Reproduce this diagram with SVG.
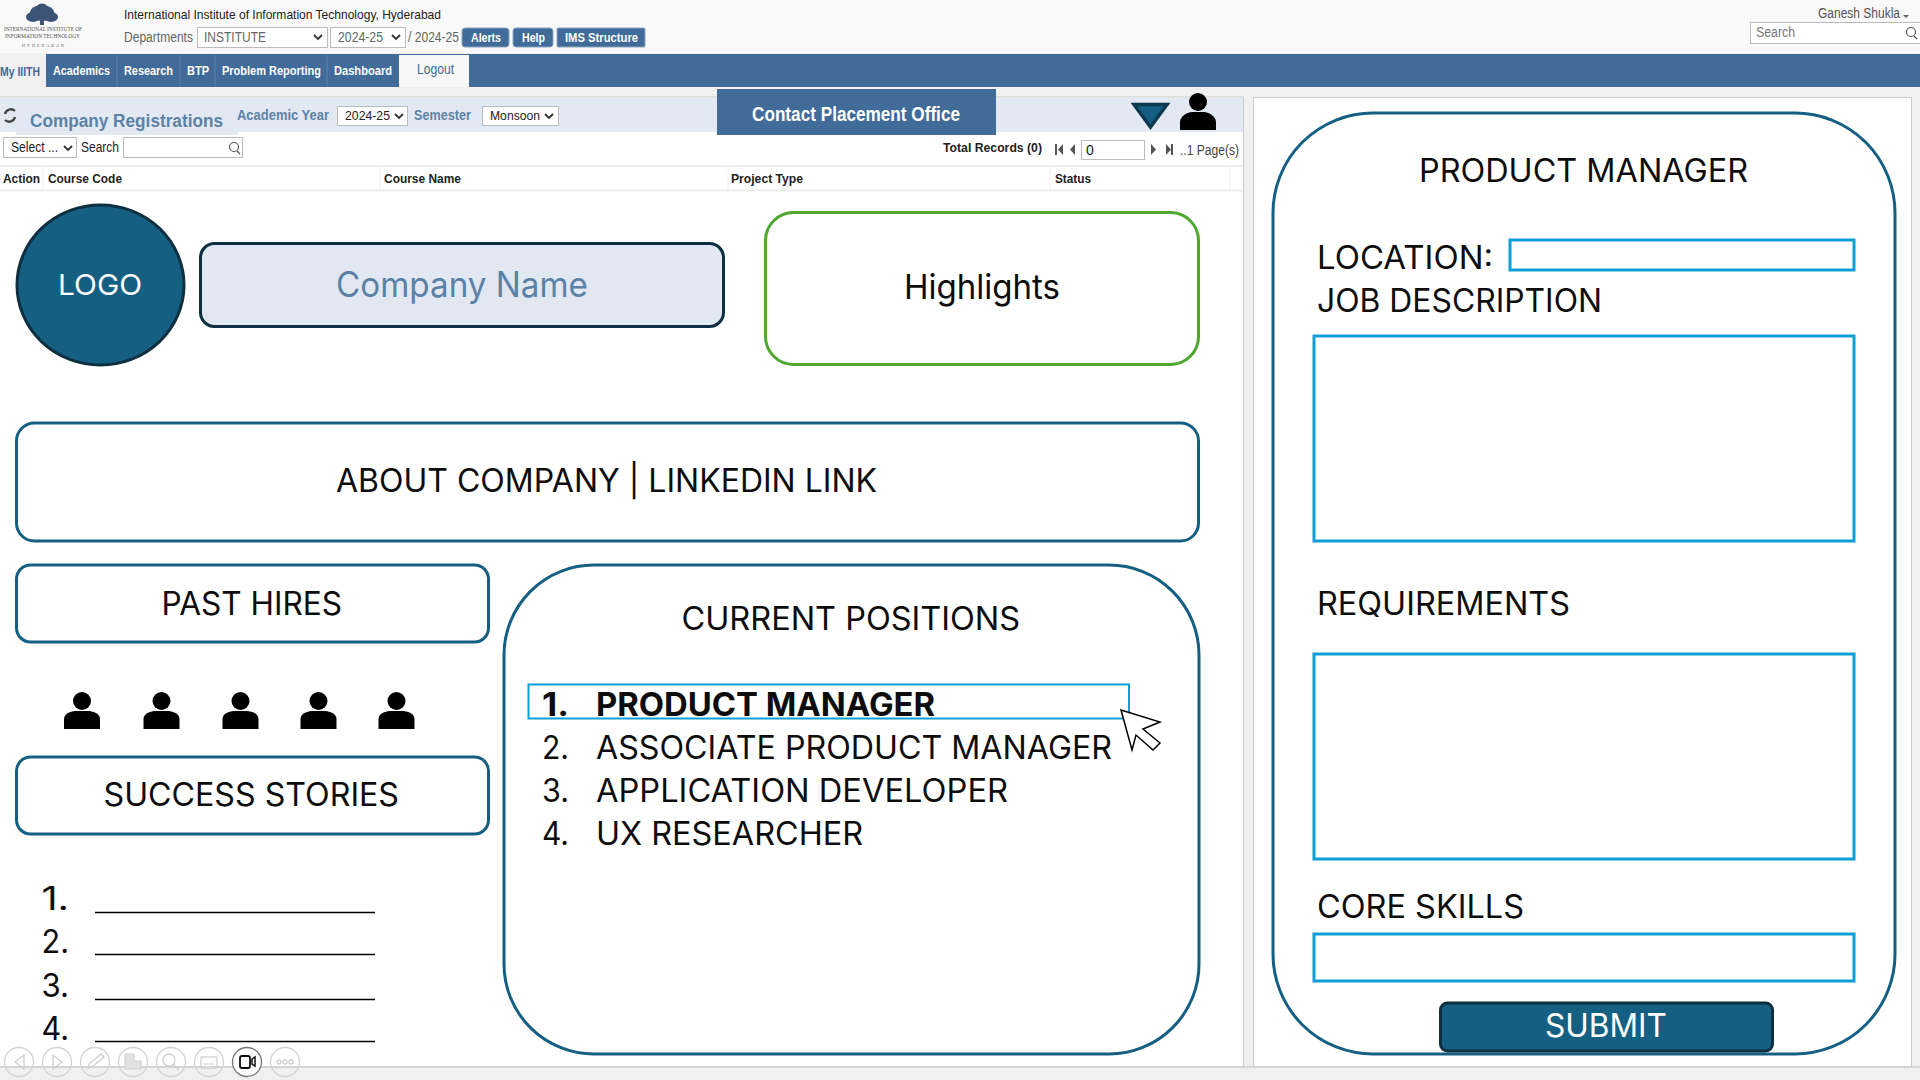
<svg xmlns="http://www.w3.org/2000/svg" width="1920" height="1080" viewBox="0 0 1920 1080">
<defs>
<style>
text{font-family:"Liberation Sans",Arial,sans-serif;font-size:13px;fill:#222}
.b{font-weight:bold}
.nav{font-weight:bold;fill:#fff;font-size:13px}
.lbl{fill:#3f6a97;font-weight:bold;font-size:14px}
.sel{fill:#fff;stroke:#bbb;stroke-width:1}
.chev{fill:none;stroke:#333;stroke-width:1.8}
.m{font-family:"Inter","Noto Sans",sans-serif;font-size:32px;fill:#0d0d0d}
.card{fill:#fff;stroke:#156082;stroke-width:3}
.field{fill:#fff;stroke:#0f9ed5;stroke-width:3}
.tool{fill:none;stroke:#d4d4d4;stroke-width:1.3}
.ico{fill:none;stroke:#cfcfcf;stroke-width:1.3}
.btn{fill:#416c9a;stroke:#8aa5c2;stroke-width:1}
.rule{stroke:#000;stroke-width:1.6}
</style>
<g id="person"><circle cx="0" cy="9" r="9" fill="#000"/><path d="M-18 37V27C-18 21-10 19-6 19H6C10 19 18 21 18 27V37Z" fill="#000"/></g>
</defs>
<rect width="1920" height="1080" fill="#f0f0f0"/>
<g id="header">
<rect width="1920" height="53" fill="#f9f9f9"/>
<g id="iiit-logo">
<ellipse cx="42" cy="13" rx="12" ry="8" fill="#3c5576"/><ellipse cx="33" cy="17" rx="7" ry="5" fill="#3c5576"/><ellipse cx="51" cy="17" rx="7" ry="5" fill="#3c5576"/><ellipse cx="42" cy="7" rx="5" ry="3.500" fill="#3c5576"/><rect x="40" y="18" width="4" height="7" fill="#3c5576"/>
<text x="4" y="31" style="font-family:'Liberation Serif',serif;font-size:5.400px;fill:#555" textLength="78" lengthAdjust="spacingAndGlyphs">INTERNATIONAL INSTITUTE OF</text>
<text x="5" y="38" style="font-family:'Liberation Serif',serif;font-size:5.400px;fill:#555" textLength="75" lengthAdjust="spacingAndGlyphs">INFORMATION TECHNOLOGY</text>
<text x="22" y="47" style="font-family:'Liberation Serif',serif;font-size:4px;fill:#555" textLength="42" lengthAdjust="spacing">HYDERABAD</text>
</g>
<text x="124" y="19" textLength="317" lengthAdjust="spacingAndGlyphs">International Institute of Information Technology, Hyderabad</text>
<text x="124" y="42" style="font-size:14px;fill:#666" textLength="69" lengthAdjust="spacingAndGlyphs">Departments</text>
<rect class="sel" x="197.500" y="27.500" width="130" height="20"/><text x="204" y="42" style="font-size:14px;fill:#666" textLength="62" lengthAdjust="spacingAndGlyphs">INSTITUTE</text><path class="chev" d="M314 35l4 4 4-4"/>
<rect class="sel" x="330.500" y="27.500" width="75" height="20"/><text x="338" y="42" style="font-size:14px;fill:#666" textLength="45" lengthAdjust="spacingAndGlyphs">2024-25</text><path class="chev" d="M392 35l4 4 4-4"/>
<text x="408" y="42" style="font-size:14px;fill:#666" textLength="51" lengthAdjust="spacingAndGlyphs">/ 2024-25</text>
<rect class="btn" x="462" y="28" width="47" height="19" rx="3"/><text x="471" y="42" class="nav" textLength="30" lengthAdjust="spacingAndGlyphs">Alerts</text>
<rect class="btn" x="513" y="28" width="40" height="19" rx="3"/><text x="522" y="42" class="nav" textLength="23" lengthAdjust="spacingAndGlyphs">Help</text>
<rect class="btn" x="557" y="28" width="88" height="19" rx="1"/><text x="565" y="42" class="nav" textLength="73" lengthAdjust="spacingAndGlyphs">IMS Structure</text>
<text x="1818" y="18" style="font-size:14px;fill:#555" textLength="82" lengthAdjust="spacingAndGlyphs">Ganesh Shukla</text><path d="M1903 15h6l-3 3z" fill="#666"/>
<rect class="sel" x="1750.500" y="22.500" width="175" height="21"/><text x="1756" y="37" style="font-size:14px;fill:#777" textLength="39" lengthAdjust="spacingAndGlyphs">Search</text>
<circle cx="1911" cy="32" r="4.500" fill="none" stroke="#555" stroke-width="1.200"/><path d="M1914 36l3 3" stroke="#555" stroke-width="1.200"/>
</g>
<g id="navbar">
<rect y="54" width="1920" height="33" fill="#416c9a"/>
<rect y="54" width="46" height="33" fill="#f0f0f0"/>
<rect x="399" y="55" width="70" height="32" fill="#f7f7f7"/>
<path d="M117 55V87M180 55V87M215 55V87M327 55V87" stroke="#5b82aa"/>
<text x="0" y="76" class="b" style="font-size:13px;fill:#3f6a97" textLength="40" lengthAdjust="spacingAndGlyphs">My IIITH</text>
<text x="53" y="75" class="nav" textLength="57" lengthAdjust="spacingAndGlyphs">Academics</text>
<text x="124" y="75" class="nav" textLength="49" lengthAdjust="spacingAndGlyphs">Research</text>
<text x="187" y="75" class="nav" textLength="22" lengthAdjust="spacingAndGlyphs">BTP</text>
<text x="222" y="75" class="nav" textLength="99" lengthAdjust="spacingAndGlyphs">Problem Reporting</text>
<text x="334" y="75" class="nav" textLength="58" lengthAdjust="spacingAndGlyphs">Dashboard</text>
<text x="417" y="74" style="font-size:14px;fill:#3f6a97" textLength="37" lengthAdjust="spacingAndGlyphs">Logout</text>
</g>
<g id="left-panel">
<rect x="-1" y="97" width="1244.500" height="970" fill="#fff" stroke="#ccc"/>
<rect y="98" width="1243" height="34" fill="#e3e9f3"/>
<rect x="16" y="115" width="222" height="20" fill="#e3e9f3"/>
<path d="M5 114a6 6 0 0 1 10-3M15 117a6 6 0 0 1-10 3" fill="none" stroke="#444" stroke-width="2.400"/>
<text x="30" y="127" class="lbl" style="font-size:18px;fill:#5c82a8" textLength="193" lengthAdjust="spacingAndGlyphs">Company Registrations</text>
<text x="237" y="120" class="lbl" style="font-size:14px;fill:#5c82a8" textLength="92" lengthAdjust="spacingAndGlyphs">Academic Year</text>
<rect class="sel" x="337.500" y="106.500" width="70" height="19"/><text x="345" y="120" style="font-size:13.500px" textLength="45" lengthAdjust="spacingAndGlyphs">2024-25</text><path class="chev" d="M395 114l4 4 4-4"/>
<text x="414" y="120" class="lbl" style="font-size:14px;fill:#5c82a8" textLength="57" lengthAdjust="spacingAndGlyphs">Semester</text>
<rect class="sel" x="482.500" y="106.500" width="76" height="19"/><text x="490" y="120" style="font-size:13.500px" textLength="50" lengthAdjust="spacingAndGlyphs">Monsoon</text><path class="chev" d="M545 114l4 4 4-4"/>
<rect class="sel" x="3.500" y="137.500" width="73" height="20"/><text x="11" y="152" style="font-size:14px" textLength="47" lengthAdjust="spacingAndGlyphs">Select ...</text><path class="chev" d="M64 146l4 4 4-4"/>
<text x="81" y="152" style="font-size:14px" textLength="38" lengthAdjust="spacingAndGlyphs">Search</text>
<rect class="sel" x="123.500" y="137.500" width="119" height="20"/><circle cx="234" cy="147" r="4.500" fill="none" stroke="#555" stroke-width="1.200"/><path d="M237 151l3 3" stroke="#555" stroke-width="1.200"/>
<text x="943" y="152" class="b" textLength="99" lengthAdjust="spacingAndGlyphs">Total Records (0)</text>
<path d="M1055 144h2v11h-2zM1063 144v11l-5-5.500z" fill="#555"/><path d="M1075 144v11l-5-5.500z" fill="#555"/>
<rect class="sel" x="1081.500" y="140.500" width="63" height="19"/><text x="1086" y="155" style="font-size:14px">0</text>
<path d="M1151 144v11l5-5.500z" fill="#555"/><path d="M1166 144v11l5-5.500zM1171 144h2v11h-2z" fill="#555"/>
<text x="1180" y="155" style="font-size:14px;fill:#444" textLength="59" lengthAdjust="spacingAndGlyphs">..1 Page(s)</text>
<path d="M0 166H1243M0 190.500H1243" stroke="#eee" stroke-width="2"/>
<path d="M43 167V190M380 167V190M728 167V190M1050 167V190M1230 167V190" stroke="#eee"/>
<text x="3" y="183" class="b" textLength="37" lengthAdjust="spacingAndGlyphs">Action</text>
<text x="48" y="183" class="b" textLength="74" lengthAdjust="spacingAndGlyphs">Course Code</text>
<text x="384" y="183" class="b" textLength="77" lengthAdjust="spacingAndGlyphs">Course Name</text>
<text x="731" y="183" class="b" textLength="72" lengthAdjust="spacingAndGlyphs">Project Type</text>
<text x="1055" y="183" class="b" textLength="36" lengthAdjust="spacingAndGlyphs">Status</text>
</g>
<rect id="right-panel" x="1253.500" y="97.500" width="658" height="969.500" fill="#fff" stroke="#ccc"/>
<g id="contact"><rect x="717" y="89" width="279" height="46" fill="#416c9a"/><text x="752" y="121" class="b" style="font-size:20px;fill:#fff" textLength="208" lengthAdjust="spacingAndGlyphs">Contact Placement Office</text></g>
<g id="profile-menu"><path d="M1134 104.500H1167L1150.500 127Z" fill="#156082" stroke="#0d3a50" stroke-width="3.500"/><circle cx="1198" cy="102" r="9" fill="#000"/><path d="M1180 130V122C1180 116 1188 112 1192 112H1204C1208 112 1216 116 1216 122V130Z" fill="#000"/></g>
<g id="logo"><ellipse cx="100.500" cy="285" rx="83.500" ry="80" fill="#156082" stroke="#0d2f40" stroke-width="3"/><text x="58" y="295" class="m" style="font-size:29px;fill:#fff" textLength="84" lengthAdjust="spacingAndGlyphs">LOGO</text></g>
<g id="company-name"><rect x="200.500" y="243.500" width="523" height="83" rx="14" fill="#e2e8f2" stroke="#0d2f40" stroke-width="3"/><text x="336" y="297" class="m" style="font-size:35px;fill:#5b82a6" textLength="252" lengthAdjust="spacingAndGlyphs">Company Name</text></g>
<g id="highlights"><rect x="765.500" y="212.500" width="433" height="152" rx="28" fill="#fff" stroke="#4ea72e" stroke-width="3"/><text x="904" y="299" class="m" style="font-size:34px" textLength="156" lengthAdjust="spacingAndGlyphs">Highlights</text></g>
<g id="about"><rect x="16.500" y="423" width="1182" height="118" rx="18" fill="#fff" stroke="#156082" stroke-width="3"/><text x="336" y="492" class="m" textLength="541" lengthAdjust="spacingAndGlyphs">ABOUT COMPANY | LINKEDIN LINK</text></g>
<g id="past-hires"><rect x="16.500" y="565" width="472" height="77" rx="14" fill="#fff" stroke="#156082" stroke-width="3"/><text x="161.500" y="615" class="m" textLength="180.500" lengthAdjust="spacingAndGlyphs">PAST HIRES</text>
<use href="#person" x="82" y="692"/><use href="#person" x="161.500" y="692"/><use href="#person" x="240.500" y="692"/><use href="#person" x="318.500" y="692"/><use href="#person" x="396.500" y="692"/></g>
<g id="success-stories"><rect x="16.500" y="757" width="472" height="77" rx="14" fill="#fff" stroke="#156082" stroke-width="3"/><text x="103.500" y="806" class="m" textLength="295.500" lengthAdjust="spacingAndGlyphs">SUCCESS STORIES</text>
<text x="41.500" y="910" class="m" textLength="27.500" lengthAdjust="spacingAndGlyphs">1.</text><text x="41.500" y="953" class="m" textLength="27.500" lengthAdjust="spacingAndGlyphs">2.</text><text x="41.500" y="997" class="m" textLength="27.500" lengthAdjust="spacingAndGlyphs">3.</text><text x="41.500" y="1040" class="m" textLength="27.500" lengthAdjust="spacingAndGlyphs">4.</text>
<path class="rule" d="M95 912.500H375M95 954.500H375M95 999.500H375M95 1041.500H375"/></g>
<g id="current-positions"><rect x="504" y="565" width="695" height="489" rx="90" class="card"/><text x="681.500" y="630" class="m" textLength="338.500" lengthAdjust="spacingAndGlyphs">CURRENT POSITIONS</text>
<rect x="528.500" y="684.500" width="600.500" height="34" fill="#fff" stroke="#0f9ed5" stroke-width="2"/>
<text x="542" y="716" class="m" style="font-weight:700" textLength="27" lengthAdjust="spacingAndGlyphs">1.</text><text x="596" y="716" class="m" style="font-weight:700" textLength="339" lengthAdjust="spacingAndGlyphs">PRODUCT MANAGER</text>
<text x="542" y="759" class="m" textLength="27" lengthAdjust="spacingAndGlyphs">2.</text><text x="596" y="759" class="m" textLength="516" lengthAdjust="spacingAndGlyphs">ASSOCIATE PRODUCT MANAGER</text>
<text x="542" y="802" class="m" textLength="27" lengthAdjust="spacingAndGlyphs">3.</text><text x="596" y="802" class="m" textLength="412" lengthAdjust="spacingAndGlyphs">APPLICATION DEVELOPER</text>
<text x="542" y="845" class="m" textLength="27" lengthAdjust="spacingAndGlyphs">4.</text><text x="596" y="845" class="m" textLength="267" lengthAdjust="spacingAndGlyphs">UX RESEARCHER</text>
<path d="M1121 710L1160 722L1143 729L1160 743L1153 750L1136 735L1132 750Z" fill="#fff" stroke="#000" stroke-width="1.500"/></g>
<g id="product-manager-form"><rect x="1273" y="113" width="622" height="941" rx="100" class="card"/>
<text x="1419" y="182" class="m" textLength="329" lengthAdjust="spacingAndGlyphs">PRODUCT MANAGER</text>
<text x="1317" y="269" class="m" textLength="176" lengthAdjust="spacingAndGlyphs">LOCATION:</text><rect class="field" x="1510" y="240" width="344" height="30"/>
<text x="1317" y="312" class="m" textLength="285" lengthAdjust="spacingAndGlyphs">JOB DESCRIPTION</text><rect class="field" x="1314" y="336" width="540" height="205"/>
<text x="1317" y="615" class="m" textLength="253" lengthAdjust="spacingAndGlyphs">REQUIREMENTS</text><rect class="field" x="1314" y="654" width="540" height="205"/>
<text x="1317" y="918" class="m" textLength="207" lengthAdjust="spacingAndGlyphs">CORE SKILLS</text><rect class="field" x="1314" y="934" width="540" height="47"/>
<g id="submit"><rect x="1440.500" y="1003" width="332" height="48" rx="7" fill="#156082" stroke="#0d2f40" stroke-width="3"/><text x="1545" y="1037" class="m" style="fill:#fff" textLength="122" lengthAdjust="spacingAndGlyphs">SUBMIT</text></g></g>
<g id="toolbar">
<path d="M0 1067H1920" stroke="#d0d0d0" stroke-width="1.500"/>
<circle class="tool" cx="19" cy="1062" r="14.500"/><path class="ico" d="M24 1055v14l-9-7z"/>
<circle class="tool" cx="57" cy="1062" r="14.500"/><path class="ico" d="M53 1055v14l9-7z"/>
<circle class="tool" cx="95" cy="1062" r="14.500"/><path class="ico" d="M88 1068l1-4 12-10 3 3-12 10z"/>
<circle class="tool" cx="133" cy="1062" r="14.500"/><path d="M125 1054h9v7h7v8h-16z" fill="#e2e2e2" stroke="#cfcfcf"/>
<circle class="tool" cx="171" cy="1062" r="14.500"/><circle class="ico" cx="169" cy="1060" r="6"/><path class="ico" d="M173 1064l6 6"/>
<circle class="tool" cx="209" cy="1062" r="14.500"/><rect class="ico" x="201" y="1057" width="16" height="11"/><path class="ico" d="M204 1064h10" stroke-dasharray="2 1"/>
<circle cx="247" cy="1062" r="14.500" fill="#fff" stroke="#777" stroke-width="1.300"/><rect x="240" y="1056" width="10" height="12" rx="2" fill="none" stroke="#111" stroke-width="1.800"/><path d="M252 1059l3-2v9l-3-2z" fill="none" stroke="#111" stroke-width="1.500"/>
<circle class="tool" cx="285" cy="1062" r="14.500"/><circle class="ico" cx="279" cy="1062" r="2"/><circle class="ico" cx="285" cy="1062" r="2"/><circle class="ico" cx="291" cy="1062" r="2"/>
</g>
</svg>
